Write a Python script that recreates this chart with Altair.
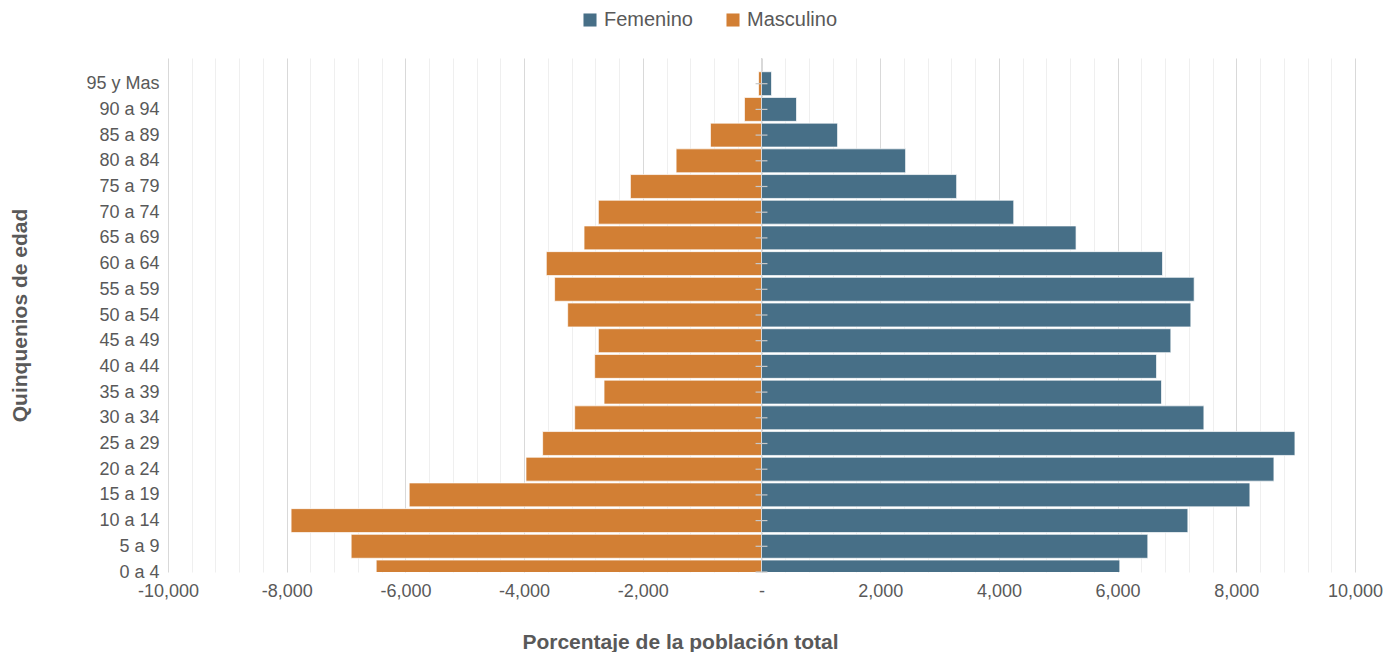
import altair as alt
import pandas as pd

ages = ["0 a 4", "5 a 9", "10 a 14", "15 a 19", "20 a 24", "25 a 29", "30 a 34",
        "35 a 39", "40 a 44", "45 a 49", "50 a 54", "55 a 59", "60 a 64", "65 a 69",
        "70 a 74", "75 a 79", "80 a 84", "85 a 89", "90 a 94", "95 y Mas"]
femenino = [6037, 6509, 7184, 8229, 8634, 8988, 7454, 6740, 6656, 6897,
            7234, 7290, 6757, 5300, 4250, 3288, 2428, 1282, 590, 169]
masculino = [-6492, -6914, -7926, -5936, -3968, -3688, -3148, -2653, -2811, -2749,
             -3266, -3486, -3626, -2990, -2749, -2209, -1439, -860, -287, -50]
series = ["Femenino", "Masculino"]
colors = ["#476f87", "#d27f34"]
x_ticks = list(range(-10000, 10001, 400))

rows = []
for i, a in enumerate(ages):
    rows.append({"idx": i, "edad": a, "sexo": "Femenino", "valor": femenino[i]})
    rows.append({"idx": i, "edad": a, "sexo": "Masculino", "valor": masculino[i]})
df = pd.DataFrame(rows)
cats = pd.DataFrame({"idx": list(range(len(ages))), "edad": ages})

names_js = "[" + ",".join("'" + a + "'" for a in ages) + "]"
FONT = "Liberation Sans"
GREY = "#595959"

xscale = alt.Scale(domain=[-10000, 10000], nice=False)
yscale = alt.Scale(domain=[0, 20], nice=False, zero=False)

xaxis = alt.Axis(values=x_ticks, grid=True,
                 gridColor=alt.expr("datum.value % 2000 == 0 ? '#d9d9d9' : '#efefef'"),
                 gridWidth=1,
                 labelExpr="datum.value % 2000 != 0 ? '' : (datum.value == 0 ? '-' : (datum.value < 0 ? '-' + format(-datum.value, ',') : format(datum.value, ',')))",
                 labelOverlap=False, labelFlush=False,
                 labelFont=FONT, labelFontSize=18, labelColor=GREY, labelPadding=10,
                 ticks=False, domain=False,
                 title="Porcentaje de la población total",
                 titleFont=FONT, titleFontSize=21, titleFontWeight="bold", titleColor=GREY,
                 titleX=512, titleY=70, titleBaseline="middle", titleAnchor="middle")
yaxis = alt.Axis(values=list(range(len(ages))), grid=False, ticks=False, domain=False,
                 labelExpr=names_js + "[datum.value]",
                 labelOverlap=False, labelFlush=False,
                 labelFont=FONT, labelFontSize=18, labelColor=GREY, labelPadding=9,
                 title="Quinquenios de edad",
                 titleFont=FONT, titleFontSize=21, titleFontWeight="bold", titleColor=GREY,
                 titleX=-148, titleY=257, titleAngle=-90,
                 titleBaseline="middle", titleAnchor="middle")

bars = alt.Chart(df).transform_calculate(
    lo="datum.idx - 0.465", hi="datum.idx + 0.465", zero="0"
).mark_bar(clip=True, stroke="#ffffff", strokeWidth=1, strokeOpacity=0.7).encode(
    x=alt.X("valor:Q", scale=xscale, axis=xaxis),
    x2=alt.X2("zero:Q"),
    y=alt.Y("lo:Q", scale=yscale, axis=yaxis),
    y2=alt.Y2("hi:Q"),
    color=alt.Color("sexo:N", scale=alt.Scale(domain=series, range=colors),
                    legend=alt.Legend(title=None, orient="none", direction="horizontal",
                                      legendX=412, legendY=-48,
                                      symbolType="square", symbolSize=170,
                                      symbolStrokeWidth=0, symbolOpacity=1,
                                      labelFont=FONT, labelFontSize=20, labelColor=GREY,
                                      labelOffset=4, columnPadding=30)),
)

zero_line = alt.Chart(cats).mark_rule(color="#d9d9d9", strokeWidth=1).encode(
    x=alt.datum(0, scale=xscale, axis=xaxis)
)

ticks = alt.Chart(cats).transform_calculate(
    a="-100", b="100"
).mark_rule(color="#c8c8c8", strokeWidth=1.2).encode(
    x=alt.X("a:Q", scale=xscale, axis=xaxis),
    x2="b:Q",
    y=alt.Y("idx:Q", scale=yscale, axis=yaxis),
)

chart = alt.layer(bars, zero_line, ticks).properties(
    width=1187, height=514,
    background="#ffffff",
    autosize=alt.AutoSizeParams(type="none"),
    padding={"left": 160, "top": 50, "right": 30, "bottom": 80},
).configure_view(stroke=None).configure_axis(labelOverlap=False, labelFlush=False)

chart.save("out.html", embed_options={"renderer": "svg", "actions": False})
